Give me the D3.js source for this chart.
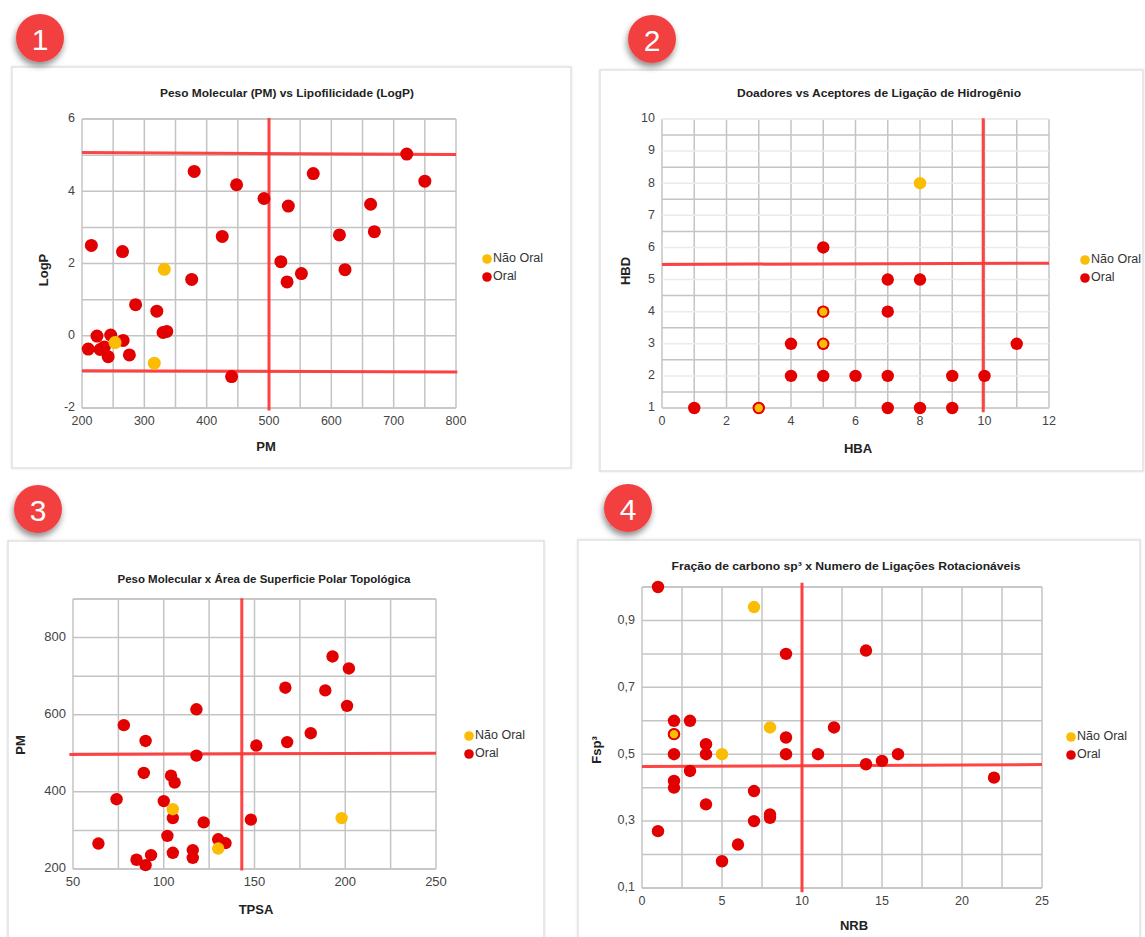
<!DOCTYPE html>
<html><head><meta charset="utf-8">
<script src="https://cdn.jsdelivr.net/npm/d3@7"></script>
<style>
body{margin:0;background:#fff;}
svg{display:block;font-family:"Liberation Sans",Arial,sans-serif;}
</style>
</head><body>
<svg id="chart" width="1145" height="937"></svg>
<script>
// ---------------- DATA ----------------
const seriesNames = ["Não Oral", "Oral"];
const badgeLabels = ["1", "2", "3", "4"];

// Panel 1: PM (x) vs LogP (y)
const p1Title = "Peso Molecular (PM) vs Lipofilicidade (LogP)";
const p1NaoOral = [[332,1.84],[253,-0.19],[316,-0.76]];
const p1Oral = [[215,2.50],[265,2.33],[286,0.86],[320,0.68],[330,0.09],[336,0.12],[210,-0.37],[224,-0.01],
  [246,0.02],[229,-0.38],[236,-0.31],[242,-0.58],[266,-0.13],[276,-0.53],[376,1.56],[380,4.55],[425,2.75],
  [448,4.18],[440,-1.13],[492,3.80],[531,3.59],[519,2.05],[529,1.49],[552,1.72],[571,4.49],[613,2.79],
  [622,1.83],[663,3.64],[669,2.88],[721,5.03],[750,4.28]];
const p1XTicks = [200,300,400,500,600,700,800];
const p1YTicks = [-2,0,2,4,6];
const p1Limits = [{x1:500,y1:6.03,x2:500,y2:-2.07},{x1:200,y1:5.07,x2:800,y2:5.02},{x1:200,y1:-0.97,x2:802,y2:-1.0}];

// Panel 2: HBA (x) vs HBD (y)
const p2Title = "Doadores vs Aceptores de Ligação de Hidrogênio";
const p2NaoOral = [[8,8],[3,1],[5,3],[5,4]];
const p2Oral = [[1,1],[3,1],[7,1],[8,1],[9,1],[4,2],[5,2],[6,2],[7,2],[9,2],[10,2],[4,3],[5,3],[11,3],
  [5,4],[7,4],[7,5],[8,5],[5,6]];
const p2XTicks = [0,2,4,6,8,10,12];
const p2YTicks = [1,2,3,4,5,6,7,8,9,10];
const p2Limits = [{x1:0,y1:5.47,x2:12,y2:5.51},{x1:9.96,y1:10.02,x2:9.96,y2:0.87}];

// Panel 3: TPSA (x) vs PM (y)
const p3Title = "Peso Molecular x Área de Superficie Polar Topológica";
const p3NaoOral = [[105,355],[198,332],[130,253]];
const p3Oral = [[193,751],[202,720],[167,670],[189,663],[201,623],[118,614],[181,552],[78,573],[90,532],
  [151,520],[168,529],[118,494],[89,449],[104,442],[106,424],[74,381],[100,376],[105,332],[122,321],
  [148,328],[64,266],[102,286],[130,277],[134,267],[105,242],[116,249],[116,229],[85,224],[93,236],[90,210]];
const p3XTicks = [50,100,150,200,250];
const p3YTicks = [200,400,600,800];
const p3Limits = [{x1:143,y1:902,x2:143,y2:196},{x1:48,y1:497,x2:250,y2:500}];

// Panel 4: NRB (x) vs Fsp3 (y)
const p4Title = "Fração de carbono sp³ x Numero de Ligações Rotacionáveis";
const p4NaoOral = [[7,0.94],[2,0.56],[8,0.58],[5,0.50]];
const p4Oral = [[1,1.0],[9,0.80],[14,0.81],[2,0.60],[3,0.60],[2,0.56],[12,0.58],[9,0.55],[4,0.53],[2,0.50],
  [4,0.50],[9,0.50],[11,0.50],[16,0.50],[14,0.47],[15,0.48],[3,0.45],[2,0.42],[2,0.40],[22,0.43],[7,0.39],
  [4,0.35],[8,0.32],[8,0.31],[7,0.30],[1,0.27],[6,0.23],[5,0.18]];
const p4XTicks = [0,5,10,15,20,25];
const p4YTicks = [0.1,0.3,0.5,0.7,0.9];
const p4Limits = [{x1:10,y1:1.013,x2:10,y2:0.087},{x1:0,y1:0.463,x2:25,y2:0.469}];

// ---------------- LAYOUT / STYLE ----------------
const RED = "#e20000", YELLOW = "#fbbc04", LINE_RED = "#ff3535", GRID = "#c4c4c4";
const intFmt = v => String(v);
const panels = [
  { frame:[12,67,571,468], plot:[82,119,456,408], xd:[200,800], yd:[-2,6], gx:50, gy:1,
    title:p1Title, tpos:[287,94,254], xl:"PM", xlp:[266,448], yl:"LogP", ylp:[45,270], leg:[487,259],
    naoOral:p1NaoOral, oral:p1Oral, xt:p1XTicks, yt:p1YTicks, lim:p1Limits, r:6.5, fmt:intFmt,
    badge:[40,38] },
  { frame:[600,70,1143,471], plot:[662,119,1049,408], xd:[0,12], yd:[1,10], gx:1, gy:0.5, halfDark:true,
    title:p2Title, tpos:[879,94,284], xl:"HBA", xlp:[858,450], yl:"HBD", ylp:[627,271], leg:[1085,260],
    naoOral:p2NaoOral, oral:p2Oral, xt:p2XTicks, yt:p2YTicks, lim:p2Limits, r:6.2, fmt:intFmt,
    badge:[652,39] },
  { frame:[8,541,544,945], plot:[73,599,436,869], xd:[50,250], yd:[200,900], gx:25, gy:100,
    title:p3Title, tpos:[264,580,293], xl:"TPSA", xlp:[256,911], yl:"PM", ylp:[22,745], leg:[469,736],
    naoOral:p3NaoOral, oral:p3Oral, xt:p3XTicks, yt:p3YTicks, lim:p3Limits, r:6.2, fmt:intFmt, fs:13,
    badge:[38,509] },
  { frame:[578,540,1140,945], plot:[642,587,1042,888], xd:[0,25], yd:[0.1,1.0], gx:2.5, gy:0.1,
    title:p4Title, tpos:[846,567,349], xl:"NRB", xlp:[854,927], yl:"Fsp³", ylp:[598,750], leg:[1071,737],
    naoOral:p4NaoOral, oral:p4Oral, xt:p4XTicks, yt:p4YTicks, lim:p4Limits, r:6.2,
    fmt:v => d3.format(".1f")(v).replace(".", ","), xfmt:intFmt,
    badge:[628,508] }
];

const svg = d3.select("#chart");
const defs = svg.append("defs");
const f = defs.append("filter").attr("id","shadow").attr("x","-50%").attr("y","-50%").attr("width","200%").attr("height","200%");
f.append("feDropShadow").attr("dx",-1).attr("dy",4).attr("stdDeviation",3).attr("flood-color","#000").attr("flood-opacity",0.45);
const fs2 = defs.append("filter").attr("id","fshadow").attr("x","-5%").attr("y","-5%").attr("width","110%").attr("height","110%");
fs2.append("feDropShadow").attr("dx",0).attr("dy",0).attr("stdDeviation",1.2).attr("flood-color","#000").attr("flood-opacity",0.12);

panels.forEach((p, i) => {
  const g = svg.append("g");
  const [fx0, fy0, fx1, fy1] = p.frame;
  g.append("rect").attr("x",fx0).attr("y",fy0).attr("width",fx1-fx0).attr("height",fy1-fy0)
    .attr("fill","#fff").attr("stroke","#e2e2e2").attr("stroke-width",1.5).attr("filter","url(#fshadow)");

  const [px0, py0, px1, py1] = p.plot;
  const x = d3.scaleLinear().domain(p.xd).range([px0, px1]);
  const y = d3.scaleLinear().domain(p.yd).range([py1, py0]);

  // grid
  const nX = Math.round((p.xd[1]-p.xd[0])/p.gx), nY = Math.round((p.yd[1]-p.yd[0])/p.gy);
  const gxv = d3.range(nX+1).map(k => p.xd[0] + k*p.gx);
  const gyv = d3.range(nY+1).map(k => p.yd[0] + k*p.gy);
  const grid = g.append("g");
  grid.selectAll(".gx").data(gxv).join("line")
    .attr("x1", d => x(d)).attr("x2", d => x(d)).attr("y1", py0).attr("y2", py1)
    .attr("stroke", GRID).attr("stroke-width", 1.5);
  grid.selectAll(".gy").data(gyv).join("line")
    .attr("x1", px0).attr("x2", px1).attr("y1", d => y(d)).attr("y2", d => y(d))
    .attr("stroke", d => p.halfDark ? (Math.abs(d - Math.round(d)) > 0.01 ? GRID : "#ebebeb") : GRID)
    .attr("stroke-width", 1.5);
  grid.append("line").attr("x1",px0).attr("x2",px1).attr("y1",py1).attr("y2",py1).attr("stroke",GRID).attr("stroke-width",1.5);
  grid.append("line").attr("x1",px0).attr("x2",px1).attr("y1",py0).attr("y2",py0).attr("stroke",p.halfDark?"#ebebeb":GRID).attr("stroke-width",1.5);

  // tick labels
  const tfs = p.fs || 12.5;
  const xf = p.xfmt || p.fmt;
  g.append("g").selectAll("text").data(p.xt).join("text")
    .attr("x", d => x(d)).attr("y", py1 + 14).attr("text-anchor","middle").attr("dominant-baseline","middle")
    .attr("font-size", tfs).attr("fill","#444").text(d => xf(d));
  g.append("g").selectAll("text").data(p.yt).join("text")
    .attr("x", px0 - 7).attr("y", d => y(d)).attr("text-anchor","end").attr("dominant-baseline","middle")
    .attr("font-size", tfs).attr("fill","#444").text(d => p.fmt(d));

  // reference lines
  g.append("g").selectAll("line").data(p.lim).join("line")
    .attr("x1", d => x(d.x1)).attr("y1", d => y(d.y1)).attr("x2", d => x(d.x2)).attr("y2", d => y(d.y2))
    .attr("stroke", LINE_RED).attr("stroke-width", 3).attr("opacity", 0.92);

  // points: Oral first, Não Oral on top
  g.append("g").selectAll("circle").data(p.oral).join("circle")
    .attr("cx", d => x(d[0])).attr("cy", d => y(d[1])).attr("r", p.r).attr("fill", RED);
  const overlaps = d => p.oral.some(o => o[0] === d[0] && o[1] === d[1]);
  g.append("g").selectAll("circle").data(p.naoOral).join("circle")
    .attr("cx", d => x(d[0])).attr("cy", d => y(d[1]))
    .attr("r", d => overlaps(d) ? p.r - 1.2 : p.r)
    .attr("fill", YELLOW)
    .attr("stroke", d => overlaps(d) ? RED : "none").attr("stroke-width", 1.6);

  // title
  g.append("text").attr("x", p.tpos[0]).attr("y", p.tpos[1]).attr("text-anchor","middle")
    .attr("dominant-baseline","middle").attr("font-size", 11.5).attr("font-weight","bold").attr("fill","#222")
    .attr("textLength", p.tpos[2]).attr("lengthAdjust","spacingAndGlyphs").text(p.title);

  // axis titles
  g.append("text").attr("x", p.xlp[0]).attr("y", p.xlp[1]).attr("text-anchor","middle")
    .attr("dominant-baseline","middle").attr("font-size", 13).attr("font-weight","bold").attr("fill","#222").text(p.xl);
  g.append("text").attr("transform", `translate(${p.ylp[0]},${p.ylp[1]}) rotate(-90)`).attr("text-anchor","middle")
    .attr("dominant-baseline","middle").attr("font-size", 13).attr("font-weight","bold").attr("fill","#222").text(p.yl);

  // legend
  const lg = g.append("g").attr("transform", `translate(${p.leg[0]},${p.leg[1]})`);
  const legItems = lg.selectAll("g").data(seriesNames).join("g").attr("transform", (d, k) => `translate(0,${k*18})`);
  legItems.append("circle").attr("r", 4.8).attr("fill", (d, k) => k === 0 ? YELLOW : RED);
  legItems.append("text").attr("x", 6).attr("dominant-baseline","middle").attr("font-size", 12.5)
    .attr("fill","#333").text(d => d);

  // badge
  const b = svg.append("g").attr("transform", `translate(${p.badge[0]},${p.badge[1]})`);
  b.append("circle").attr("r", 24).attr("fill", "#f24141").attr("filter","url(#shadow)");
  b.append("text").attr("text-anchor","middle").attr("dominant-baseline","central").attr("y", 1)
    .attr("font-size", 30).attr("fill","#fff").text(badgeLabels[i]);
});
</script>
</body></html>
